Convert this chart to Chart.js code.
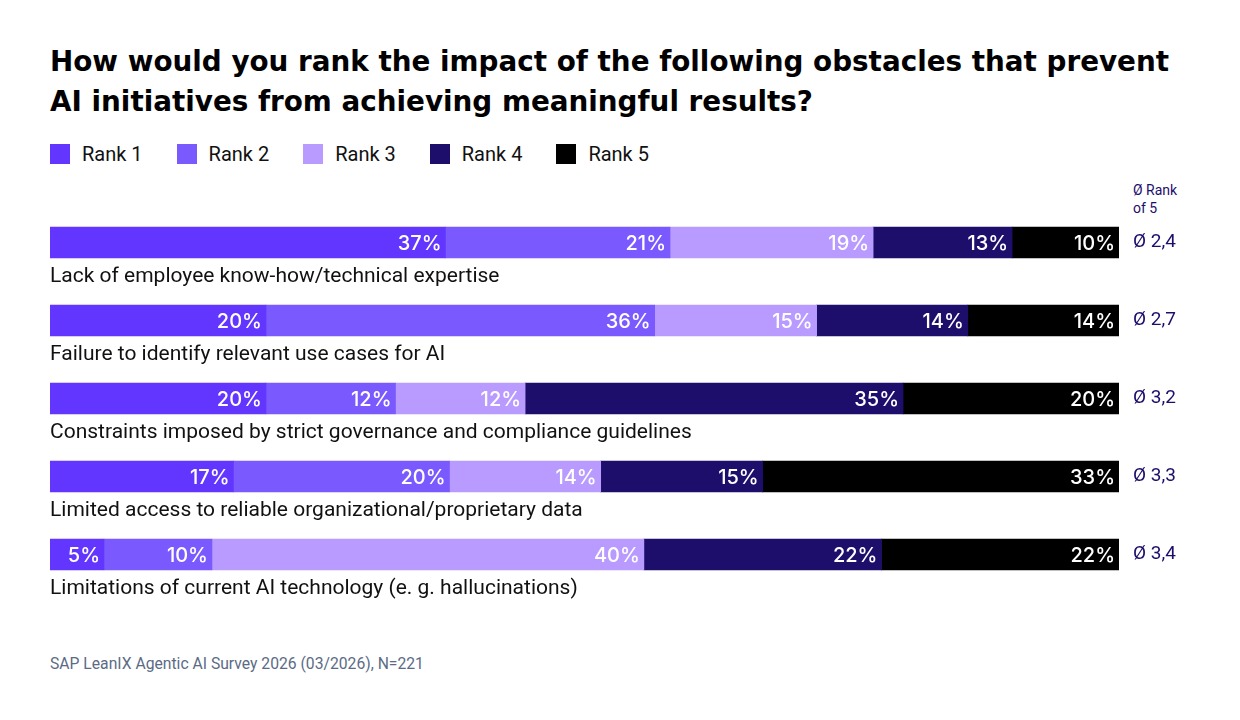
<!DOCTYPE html>
<html>
<head>
<meta charset="utf-8">
<script src="https://cdn.jsdelivr.net/npm/chart.js@4.4.1/dist/chart.umd.min.js"></script>
<style>
    html, body { margin: 0; padding: 0; background: #fff; }
    body { width: 1240px; height: 720px; position: relative; overflow: hidden; font-family: Roboto, "Noto Sans", sans-serif; }
    #title { position: absolute; left: 50px; top: 42px; margin: 0; font-family: "DejaVu Sans", sans-serif; font-size: 27.8px; line-height: 40px; font-weight: 700; color: #000; white-space: nowrap; }
    #legend { position: absolute; left: 50px; top: 142px; display: flex; font-size: 20px; color: #111; }
    #legend .item { display: flex; align-items: center; margin-right: 34px; }
    #legend .box { width: 20px; height: 20px; margin-right: 12px; }
    #avgHead { position: absolute; left: 1133px; top: 181px; font-size: 14px; line-height: 18px; color: #1e0e6b; }
    #source { position: absolute; left: 50px; top: 654px; font-size: 15.7px; color: #5b6b85; }
    #chartWrap { position: absolute; left: 0; top: 0; width: 1240px; height: 720px; }
</style>
</head>
<body>
<h1 id="title">How would you rank the impact of the following obstacles that prevent<br>AI initiatives from achieving meaningful results?</h1>
<div id="legend"></div>
<div id="avgHead">Ø Rank<br>of 5</div>
<div id="source">SAP LeanIX Agentic AI Survey 2026 (03/2026), N=221</div>
<div id="chartWrap"><canvas id="rankChart"></canvas></div>

<script>
const categories = [
    'Lack of employee know-how/technical expertise',
    'Failure to identify relevant use cases for AI',
    'Constraints imposed by strict governance and compliance guidelines',
    'Limited access to reliable organizational/proprietary data',
    'Limitations of current AI technology (e. g. hallucinations)'
];
const seriesNames = ['Rank 1', 'Rank 2', 'Rank 3', 'Rank 4', 'Rank 5'];
const rank1 = [37, 20, 20, 17, 5];
const rank2 = [21, 36, 12, 20, 10];
const rank3 = [19, 15, 12, 14, 40];
const rank4 = [13, 14, 35, 15, 22];
const rank5 = [10, 14, 20, 33, 22];
const avgRank = [2.4, 2.7, 3.2, 3.3, 3.4];
const colors = ['#6236ff', '#7a5aff', '#b99bff', '#1e0e6b', '#000000'];

document.addEventListener('DOMContentLoaded', () => {
    const allRanks = [rank1, rank2, rank3, rank4, rank5];

    // rounded shares do not always add up to 100, so scale each row to full width
    const rowTotals = categories.map((c, i) => allRanks.reduce((sum, r) => sum + r[i], 0));

    const legend = document.getElementById('legend');
    seriesNames.forEach((name, k) => {
        const item = document.createElement('div');
        item.className = 'item';
        item.innerHTML = `<span class="box" style="background:${colors[k]}"></span><span>${name}</span>`;
        legend.appendChild(item);
    });

    const segmentLabels = {
        id: 'segmentLabels',
        afterDatasetsDraw(chart) {
            const ctx = chart.ctx;
            ctx.save();
            ctx.fillStyle = '#ffffff';
            ctx.font = '500 20px Inter, sans-serif';
            ctx.textAlign = 'right';
            ctx.textBaseline = 'middle';
            chart.data.datasets.forEach((ds, k) => {
                chart.getDatasetMeta(k).data.forEach((bar, i) => {
                    ctx.fillText(allRanks[k][i] + '%', bar.x - 4, bar.y + 1);
                });
            });

            const yScale = chart.scales.y;
            ctx.fillStyle = '#111111';
            ctx.font = '21px Roboto, "Noto Sans", sans-serif';
            ctx.textAlign = 'left';
            categories.forEach((cat, i) => {
                ctx.fillText(cat, chart.chartArea.left, yScale.getPixelForValue(i) + 34);
            });
            ctx.restore();
        }
    };

    const ctx = document.getElementById('rankChart').getContext('2d');
    new Chart(ctx, {
        type: 'bar',
        data: {
            labels: categories,
            datasets: allRanks.map((r, k) => ({
                label: seriesNames[k],
                data: r.map((v, i) => v / rowTotals[i] * 100),
                backgroundColor: colors[k],
                borderWidth: 0,
                barThickness: 31,
                yAxisID: 'y'
            }))
        },
        options: {
            indexAxis: 'y',
            responsive: true,
            maintainAspectRatio: false,
            animation: false,
            layout: {
                padding: { left: 50, right: 0, top: 203.5, bottom: 126.5 }
            },
            plugins: {
                legend: { display: false },
                title: { display: false },
                tooltip: { enabled: false }
            },
            scales: {
                x: {
                    stacked: true,
                    min: 0,
                    max: 100,
                    display: false
                },
                y: {
                    stacked: true,
                    display: false
                },
                y2: {
                    type: 'category',
                    position: 'right',
                    labels: avgRank.map(v => 'Ø ' + v.toFixed(1).replace('.', ',')),
                    offset: true,
                    grid: { display: false, drawTicks: false },
                    border: { display: false },
                    ticks: {
                        color: '#1e0e6b',
                        padding: 14,
                        font: { family: 'Roboto, "Noto Sans", sans-serif', size: 19 }
                    },
                    afterFit: scale => { scale.width = 121; }
                }
            }
        },
        plugins: [segmentLabels]
    });
});
</script>
</body>
</html>
